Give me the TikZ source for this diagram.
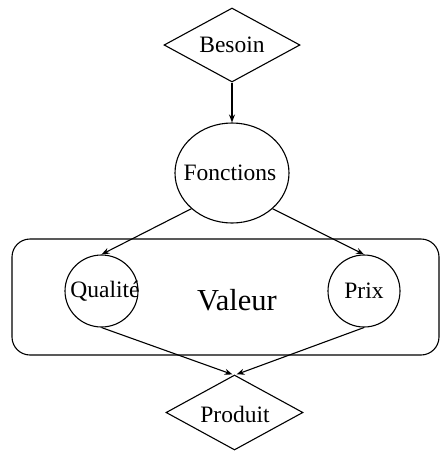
\documentclass[tikz,border=0pt]{standalone}
\usepackage{fontspec}
\setmainfont{Liberation Serif}
\usetikzlibrary{shapes.geometric,arrows.meta}
\begin{document}
\begin{tikzpicture}[x=1pt,y=-1pt,
  lbl/.style={font=\fontsize{23.5}{26}\selectfont, inner sep=0pt},
  dia/.style={draw, line width=1.1pt, shape=diamond, aspect=1.84, inner sep=0pt, minimum width=136pt, minimum height=74pt},
  ell/.style={draw, line width=1.1pt, shape=ellipse, inner sep=0pt},
  arr/.style={line width=1.1pt, -{Stealth[length=8pt,width=6pt]}}]
\useasboundingbox (0,0) rectangle (440,451);
\draw[line width=1.1pt, rounded corners=18pt] (12,239) rectangle (439,355);
\node[lbl, font=\fontsize{30.5}{33}\selectfont] (val) at (237,300) {Valeur};
\node[dia] (bes) at (232,45) {};
\node[lbl] at (232,45) {Besoin};
\node[ell, minimum width=114pt, minimum height=100pt] (fon) at (232,173) {};
\node[lbl] at (230,173) {Fonctions};
\node[ell, minimum width=73pt, minimum height=72pt] (qua) at (101.5,291) {};
\node[lbl] at (105,291) {Qualité};
\node[ell, minimum width=72pt, minimum height=72pt] (pri) at (364,291) {};
\node[lbl] at (364,291) {Prix};
\node[dia, minimum width=137pt, minimum height=75pt] (pro) at (234.5,412.5) {};
\node[lbl] at (235,414) {Produit};
\draw[arr] (bes.south) -- (fon.north);
\draw[arr] (fon.south west) -- (qua.north);
\draw[arr] (fon.south east) -- (pri.north);
\draw[arr] (qua.south) -- ([xshift=-2pt]pro.north);
\draw[arr] (pri.south) -- ([xshift=2pt]pro.north);
\end{tikzpicture}
\end{document}
